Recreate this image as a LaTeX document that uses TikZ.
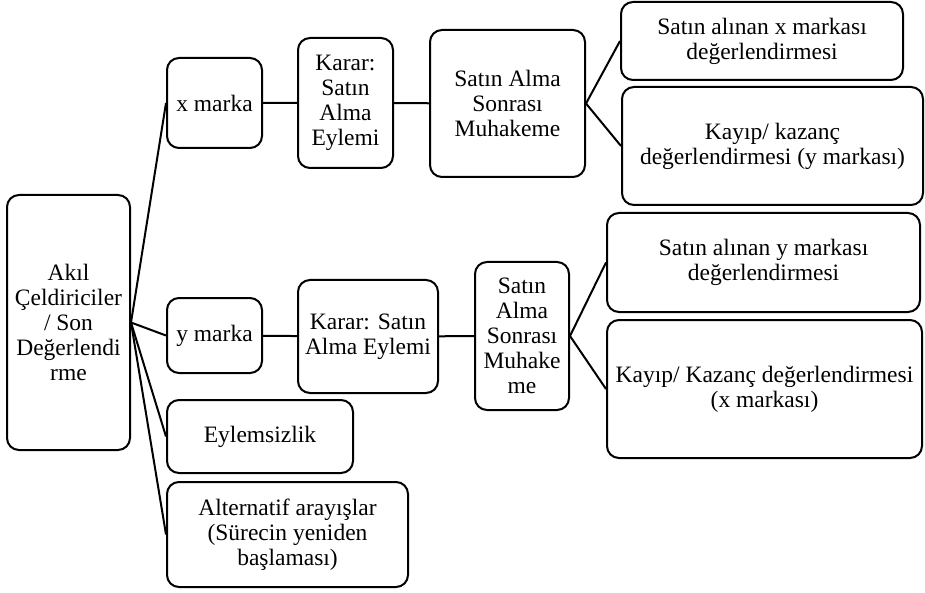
\documentclass[tikz,border=0pt]{standalone}
\usepackage{fontspec}
\setmainfont{Liberation Serif}
\usepackage{tikz}
\usetikzlibrary{positioning}

\tikzset{
  kutu/.style={rounded corners=12pt, draw, line width=2pt, align=center, inner sep=0pt,
    font=\fontsize{23.5}{25}\selectfont},
  bag/.style={line width=2pt}
}

\begin{document}
\begin{tikzpicture}[x=1pt, y=-1pt]
    \useasboundingbox (0,0) rectangle (925,593);
    \node[kutu, minimum width=123pt, minimum height=255pt] (akil) at (68.5, 322.5) {Akıl\\Çeldiriciler\\/ Son\\Değerlendi\\rme};
    \node[kutu, minimum width=95pt, minimum height=90pt] (xmarka) at (214.5, 103) {x marka};
    \node[kutu, minimum width=95pt, minimum height=130pt] (kararx) at (345.5, 103) {Karar:\\Satın\\Alma\\Eylemi};
    \node[kutu, minimum width=155pt, minimum height=147pt] (muhx) at (507.5, 103.5) {Satın Alma\\Sonrası\\Muhakeme};
    \node[kutu, minimum width=282pt, minimum height=78pt] (degx) at (762, 41) {Satın alınan x markası\\değerlendirmesi};
    \node[kutu, minimum width=301pt, minimum height=118pt] (kayipy) at (772.5, 146) {Kayıp/ kazanç\\değerlendirmesi (y markası)};
    \node[kutu, minimum width=95pt, minimum height=75pt] (ymarka) at (214.5, 335.5) {y marka};
    \node[kutu, minimum width=140pt, minimum height=113pt] (karary) at (368, 336.5) {Karar: Satın\\Alma Eylemi};
    \node[kutu, minimum width=94pt, minimum height=148pt] (muhy) at (522, 336) {Satın\\Alma\\Sonrası\\Muhake\\me};
    \node[kutu, minimum width=313pt, minimum height=99pt] (degy) at (763.5, 262.5) {Satın alınan y markası\\değerlendirmesi};
    \node[kutu, minimum width=315pt, minimum height=138pt] (kayipx) at (764.5, 389) {Kayıp/ Kazanç değerlendirmesi\\(x markası)};
    \node[kutu, minimum width=186pt, minimum height=73pt] (eylem) at (260, 436.5) {Eylemsizlik};
    \node[kutu, minimum width=241pt, minimum height=105pt] (alt) at (287.5, 534.5) {Alternatif arayışlar\\(Sürecin yeniden\\başlaması)};
    \draw[bag] (akil.east) -- (xmarka.west);
    \draw[bag] (akil.east) -- (ymarka.west);
    \draw[bag] (akil.east) -- (eylem.west);
    \draw[bag] (akil.east) -- (alt.west);
    \draw[bag] (xmarka) -- (kararx) -- (muhx);
    \draw[bag] (muhx.east) -- (degx.west);
    \draw[bag] (muhx.east) -- (kayipy.west);
    \draw[bag] (ymarka) -- (karary) -- (muhy);
    \draw[bag] (muhy.east) -- (degy.west);
    \draw[bag] (muhy.east) -- (kayipx.west);
  \end{tikzpicture}
\end{document}
